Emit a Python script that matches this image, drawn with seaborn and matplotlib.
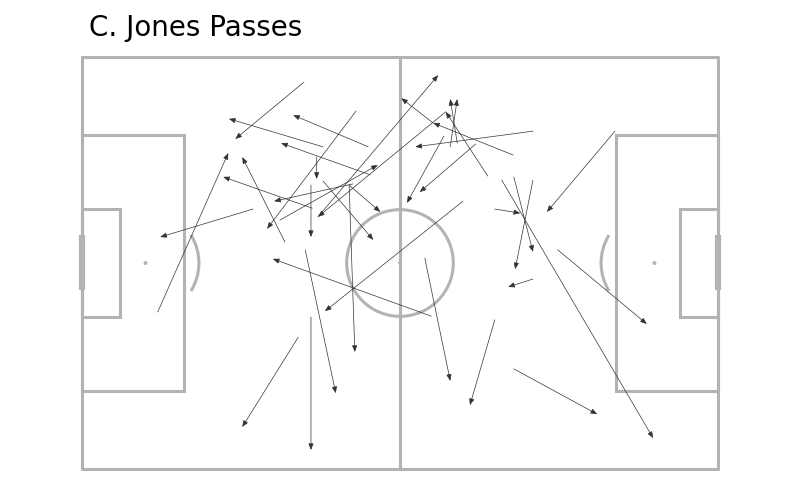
import numpy as np
import pandas as pd
import matplotlib
matplotlib.use('Agg')
import matplotlib.pyplot as plt
from matplotlib.patches import Ellipse, Arc, Rectangle
import seaborn as sns

# Pass start / end locations (Wyscout style 0-100 pitch, y measured from the top)
start_x = [34.9, 37.9, 45.0, 43.1, 36.9, 36.0, 45.3, 36.2, 11.9, 31.9,
           26.9, 42.6, 37.9, 42.0, 42.0, 37.1, 57.2, 31.1, 67.8, 59.0,
           57.9, 70.9, 56.9, 61.9, 59.9, 64.9, 66.0, 67.9, 70.9, 83.8,
           70.9, 74.8, 67.9, 54.9, 35.1, 36.0, 53.9, 64.9, 34.0, 63.8,
           55.2]
start_y = [6.1, 21.8, 21.8, 13.1, 24.3, 31.1, 28.6, 36.7, 61.9, 44.9,
           36.9, 30.8, 30.1, 31.1, 31.1, 38.8, 13.3, 39.6, 23.8, 20.9,
           21.8, 18.0, 19.2, 21.1, 35.0, 36.9, 29.9, 29.1, 29.9, 18.0,
           53.9, 46.8, 75.7, 62.9, 46.8, 63.1, 48.8, 63.8, 68.0, 28.9,
           16.0]
end_x = [24.1, 23.1, 33.2, 29.1, 36.9, 36.0, 31.3, 22.2, 23.0, 25.2,
         12.3, 30.2, 45.8, 46.9, 42.9, 56.0, 37.1, 46.5, 55.2, 57.9,
         59.0, 52.4, 51.1, 53.1, 38.2, 68.9, 89.8, 70.9, 68.1, 73.1,
         67.0, 88.8, 81.0, 30.0, 39.9, 36.0, 57.9, 61.0, 25.2, 57.2,
         50.2]
end_y = [19.9, 15.0, 14.1, 41.7, 29.6, 43.7, 20.9, 29.1, 23.3, 24.3,
         43.7, 35.0, 44.4, 37.6, 71.6, 4.4, 38.8, 26.2, 16.0, 10.2,
         10.2, 21.8, 35.4, 32.8, 61.7, 37.9, 92.5, 47.3, 51.5, 37.6,
         55.8, 64.8, 86.7, 49.0, 81.6, 95.4, 78.6, 84.5, 89.8, 13.3,
         10.0]

passes = pd.DataFrame({'x': start_x, 'y': start_y, 'end_x': end_x, 'end_y': end_y})

line_col = '#b3b3b3'
arrow_col = '#333333'

sns.set_theme(style='white')
fig = plt.figure(figsize=(8, 5), dpi=100)
ax = fig.add_axes([0.1025, 0.062, 0.795, 0.824])

# pitch markings
lw = 2.2
ax.plot([0, 100, 100, 0, 0], [0, 0, 100, 100, 0], color=line_col, lw=lw, zorder=1, clip_on=False)
ax.plot([50, 50], [0, 100], color=line_col, lw=lw, zorder=1, clip_on=False)
for x0, w in [(0, 16), (84, 16)]:
    ax.add_patch(Rectangle((x0, 19), w, 62, fill=False, ec=line_col, lw=lw, zorder=1, clip_on=False))
for x0, w in [(0, 6), (94, 6)]:
    ax.add_patch(Rectangle((x0, 37), w, 26, fill=False, ec=line_col, lw=lw, zorder=1, clip_on=False))
rx, ry = 8.38, 12.95
ax.add_patch(Ellipse((50, 50), 2 * rx, 2 * ry, fill=False, ec=line_col, lw=lw, zorder=1))
ax.add_patch(Arc((10, 50), 2 * rx, 2 * ry, theta1=-43.6, theta2=43.6, ec=line_col, lw=lw, zorder=1))
ax.add_patch(Arc((90, 50), 2 * rx, 2 * ry, theta1=136.4, theta2=223.6, ec=line_col, lw=lw, zorder=1))
ax.plot([0, 0], [43.2, 56.6], color=line_col, lw=4.5, solid_capstyle='butt', zorder=1, clip_on=False)
ax.plot([100, 100], [43.2, 56.6], color=line_col, lw=4.5, solid_capstyle='butt', zorder=1, clip_on=False)
spots = pd.DataFrame({'x': [10, 90, 50], 'y': [50, 50, 50]})
sns.scatterplot(data=spots, x='x', y='y', ax=ax, color=line_col, s=8, edgecolor='none', zorder=1)

# passes
for _, p in passes.iterrows():
    ax.annotate('', xy=(p['end_x'], p['end_y']), xytext=(p['x'], p['y']),
                arrowprops=dict(arrowstyle='-|>,head_length=0.55,head_width=0.22',
                                color=arrow_col, lw=0.5, mutation_scale=7,
                                shrinkA=0, shrinkB=0), zorder=3)

ax.set_xlim(0, 100)
ax.set_ylim(100, 0)
ax.axis('off')

fig.text(0.111, 0.945, 'C. Jones Passes', fontsize=20, ha='left', va='center', color='black')
fig.savefig('out.png', dpi=100)
